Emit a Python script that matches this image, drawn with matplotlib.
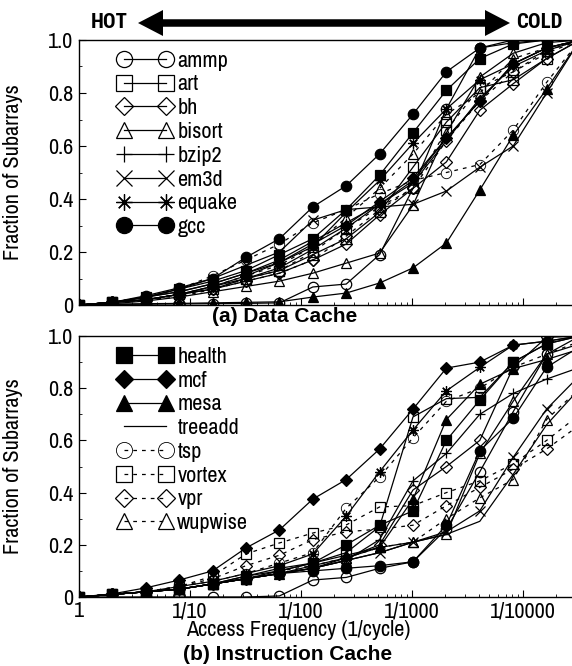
import matplotlib
matplotlib.use("Agg")
import matplotlib.pyplot as plt
import numpy as np
from matplotlib import font_manager
from matplotlib.patches import FancyArrow
from matplotlib.transforms import IdentityTransform

# Schrift: schmale Helvetica-Variante, erste vorhandene nehmen
installiert = {f.name for f in font_manager.fontManager.ttflist}
def erste(*kandidaten):
    for k in kandidaten:
        if k in installiert:
            return k
    return "DejaVu Sans"
schmal = erste("Liberation Sans Narrow", "Archivo Narrow", "PT Sans Narrow", "Roboto Condensed")
eng_fett = erste("Roboto Condensed", "Archivo Narrow", "Liberation Sans Narrow")
fett = erste("Liberation Sans", "Arimo", "Roboto")
plt.rcParams["font.family"] = [schmal, "DejaVu Sans"]

# Daten -------------------------------------------------------------------
# Zugriffsintervall in Zyklen: 1, 2, 4, ... 32768
intervall = 2.0 ** np.arange(16)

benchmarks = ["ammp", "art", "bh", "bisort", "bzip2", "em3d", "equake", "gcc",
              "health", "mcf", "mesa", "treeadd", "tsp", "vortex", "vpr", "wupwise"]

xtick_werte = [1, 10, 100, 1000, 10000]
xtick_texte = ["1", "1/10", "1/100", "1/1000", "1/10000"]
ytick_werte = [0, 0.2, 0.4, 0.6, 0.8, 1.0]
ytick_texte = ["0", "0.2", "0.4", "0.6", "0.8", "1.0"]

# (a) Data Cache
dcache = [
    [0, .002, .003, .004, .005, .006, .008, .068, .079, .19, .44, .74, .97, 1.0, 1.0, 1.0],   # ammp
    [0, .01, .02, .04, .07, .10, .13, .19, .25, .35, .52, .69, .82, .85, .93, 1.0],          # art
    [0, .01, .02, .04, .06, .09, .12, .17, .23, .34, .44, .54, .735, .835, .93, 1.0],        # bh
    [0, .005, .015, .03, .05, .07, .09, .12, .158, .196, .377, .65, .86, .95, .99, 1.0],     # bisort
    [0, .01, .03, .05, .08, .12, .17, .24, .31, .38, .47, .63, .77, .91, .97, 1.0],          # bzip2
    [0, .01, .03, .06, .10, .15, .20, .32, .36, .37, .38, .43, .52, .60, .80, 1.0],          # em3d
    [0, .01, .03, .05, .08, .12, .16, .22, .35, .47, .61, .74, .85, .91, .97, 1.0],          # equake
    [0, .01, .035, .065, .10, .18, .25, .37, .45, .57, .72, .88, .97, .99, 1.0, 1.0],        # gcc
    [0, .01, .03, .06, .09, .13, .19, .25, .36, .49, .65, .81, .93, .985, 1.0, 1.0],         # health
    [0, .01, .02, .04, .07, .11, .16, .23, .30, .39, .48, .63, .77, .91, .97, 1.0],          # mcf
    [0, .003, .005, .006, .008, .01, .012, .03, .045, .083, .14, .234, .434, .64, .815, 1.0],# mesa
    [0, .01, .02, .04, .06, .10, .14, .21, .29, .38, .46, .62, .78, .90, .96, 1.0],          # treeadd
    [0, .01, .03, .06, .11, .17, .23, .31, .36, .42, .47, .50, .53, .66, .84, 1.0],          # tsp
    [0, .01, .02, .04, .06, .10, .13, .20, .29, .37, .44, .66, .82, .88, .96, 1.0],          # vortex
    [0, .01, .02, .03, .06, .09, .12, .17, .26, .36, .44, .62, .77, .88, .95, 1.0],          # vpr
    [0, .01, .02, .04, .07, .11, .15, .22, .33, .44, .57, .72, .80, .93, .97, 1.0],          # wupwise
]

# (b) Instruction Cache
icache = [
    [0, 0, 0, 0, 0, 0, .004, .065, .075, .11, .135, .26, .48, .71, .93, 1.0],               # ammp
    [0, .01, .02, .03, .05, .07, .10, .13, .17, .27, .69, .76, .765, .90, .97, 1.0],         # art
    [0, .01, .02, .03, .05, .07, .09, .11, .15, .20, .41, .50, .60, .88, .995, 1.0],         # bh
    [0, .01, .02, .03, .05, .07, .09, .12, .15, .19, .21, .24, .55, .75, .93, .97],          # bisort
    [0, .01, .02, .03, .05, .07, .09, .11, .14, .22, .445, .55, .70, .78, .835, .88],        # bzip2
    [0, .01, .02, .03, .05, .07, .09, .11, .14, .17, .21, .25, .33, .535, .72, .85],         # em3d
    [0, .01, .02, .04, .06, .09, .12, .165, .31, .48, .64, .79, .88, .965, .98, 1.0],        # equake
    [0, .01, .02, .03, .05, .07, .09, .10, .11, .12, .135, .275, .56, .685, .88, .96],       # gcc
    [0, .01, .02, .03, .05, .08, .11, .13, .20, .275, .33, .60, .755, .90, .97, 1.0],        # health
    [0, .012, .035, .065, .10, .188, .257, .375, .45, .567, .72, .877, .90, .965, .98, 1.0], # mcf
    [0, .01, .02, .03, .05, .08, .10, .13, .16, .19, .375, .68, .815, .875, .91, .95],       # mesa
    [0, .01, .02, .03, .05, .07, .09, .11, .14, .17, .21, .24, .29, .47, .66, .80],          # treeadd
    [0, .01, .02, .04, .06, .09, .13, .17, .34, .46, .61, .75, .80, .88, .93, .98],          # tsp
    [0, .01, .02, .04, .08, .165, .207, .245, .276, .345, .35, .40, .445, .51, .60, .70],    # vortex
    [0, .01, .02, .04, .07, .12, .16, .22, .25, .26, .275, .35, .42, .49, .567, .66],        # vpr
    [0, .01, .02, .03, .05, .07, .10, .12, .15, .19, .21, .30, .38, .45, .68, .80],          # wupwise
]

# Stil je Benchmark: Marker, gefuellt, Linienart
stil = {
    "ammp": ("o", False, "-"), "art": ("s", False, "-"), "bh": ("D", False, "-"),
    "bisort": ("^", False, "-"), "bzip2": ("+", False, "-"), "em3d": ("x", False, "-"),
    "equake": ((8, 2, 0), False, "-"), "gcc": ("o", True, "-"),
    "health": ("s", True, "-"), "mcf": ("D", True, "-"), "mesa": ("^", True, "-"),
    "treeadd": (None, False, "-"), "tsp": ("o", False, (0, (3, 4))),
    "vortex": ("s", False, (0, (3, 4))), "vpr": ("D", False, (0, (3, 4))),
    "wupwise": ("^", False, (0, (3, 4))),
}

# Figur --------------------------------------------------------------------
B, H = 572, 666
fig = plt.figure(figsize=(B / 100, H / 100), dpi=100)
links, breite = 79 / B, 501 / B
ax_a = fig.add_axes([links, 1 - 305 / H, breite, 265 / H])
ax_b = fig.add_axes([links, 1 - 597 / H, breite, 261 / H])

for ax, werte in ((ax_a, dcache), (ax_b, icache)):
    for name, ys in zip(benchmarks, werte):
        m, voll, ls = stil[name]
        ms = 6 if m == "D" else 7.5
        ax.plot(intervall, ys, color="k", lw=0.9, ls=ls, marker=m, ms=ms,
                mfc="k" if voll else "none", mec="k",
                mew=0.6 if name == "tsp" else 0.9, label=name)
    ax.set_xscale("log")
    ax.set_xlim(1, 2 ** 15)
    ax.set_ylim(0, 1)
    ax.set_yticks(ytick_werte)
    ax.set_yticklabels(ytick_texte)
    ax.set_yticks(np.arange(0.1, 1.0, 0.2), minor=True)
    ax.set_xticks(xtick_werte)
    ax.xaxis.set_minor_locator(matplotlib.ticker.LogLocator(base=10, subs=np.arange(2, 10)))
    ax.xaxis.set_minor_formatter(matplotlib.ticker.NullFormatter())
    ax.tick_params(which="both", direction="in", top=False, right=False, labelsize=16, pad=4)
    ax.tick_params(which="major", length=5, width=0.8)
    ax.tick_params(which="minor", length=2.5, width=0.6)
    ax.set_ylabel("Fraction of Subarrays", fontsize=16)
    ax.yaxis.set_label_coords(-0.112, 0.5)
    for s in ax.spines.values():
        s.set_linewidth(1.0)

ax_a.set_xticklabels([])
ax_b.set_xticklabels(xtick_texte)
ax_b.tick_params(axis="x", pad=3)

linien_a = ax_a.get_lines()[:8]
linien_b = ax_b.get_lines()[8:]
for ax, linien in ((ax_a, linien_a), (ax_b, linien_b)):
    ax.legend(handles=linien, loc="upper left", bbox_to_anchor=(0.05, 1.01),
              frameon=False, numpoints=2, handlelength=2.5, handletextpad=0.2,
              labelspacing=0.17, borderaxespad=0.2, markerscale=1.55, fontsize=16)

fig.text(285 / B, 1 - 316 / H, "(a) Data Cache", ha="center", va="center",
         fontsize=15, fontweight="bold", family=fett)
fig.text(298 / B, 1 - 630 / H, "Access Frequency (1/cycle)", ha="center", va="center",
         fontsize=16)
fig.text(288 / B, 1 - 655 / H, "(b) Instruction Cache", ha="center", va="center",
         fontsize=15, fontweight="bold", family=fett)

# HOT <-> COLD Pfeil
fig.text(109 / B, 1 - 23 / H, "HOT", ha="center", va="center", fontsize=15,
         fontweight="bold", family=eng_fett)
fig.text(539 / B, 1 - 22 / H, "COLD", ha="center", va="center", fontsize=15,
         fontweight="bold", family=eng_fett)
mitte = (138 + 510) / 2
for ende in (138, 510):
    fig.add_artist(FancyArrow(mitte, H - 23, ende - mitte, 0, width=7.5, head_width=26,
                              head_length=25, length_includes_head=True,
                              transform=IdentityTransform(), color="k", lw=0))

fig.savefig("out.png", dpi=100)
